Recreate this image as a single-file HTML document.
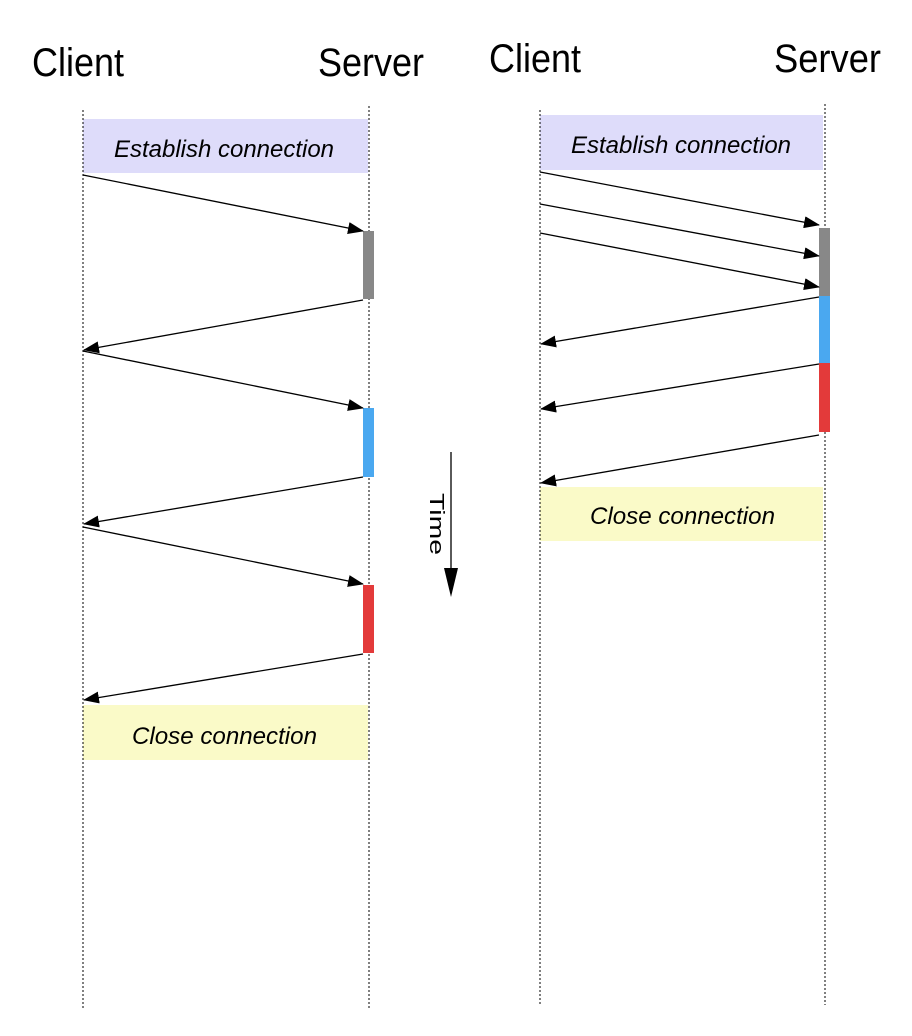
<!DOCTYPE html>
<html><head><meta charset="utf-8"><style>
html,body{margin:0;padding:0;background:#fff;}
svg{display:block;}
text{font-family:"Liberation Sans",sans-serif;}
</style></head><body>
<svg width="912" height="1036" viewBox="0 0 912 1036" xmlns="http://www.w3.org/2000/svg">
<defs>
<marker id="ah" markerWidth="16" markerHeight="12" refX="15" refY="6" orient="auto" markerUnits="userSpaceOnUse">
<path d="M0,0 L16,6 L0,12 z" fill="#000"/>
</marker>
</defs>
<!-- headers -->
<text x="32" y="76" font-size="40" textLength="92" lengthAdjust="spacingAndGlyphs">Client</text>
<text x="318" y="76" font-size="40" textLength="106" lengthAdjust="spacingAndGlyphs">Server</text>
<text x="489" y="72" font-size="40" textLength="92" lengthAdjust="spacingAndGlyphs">Client</text>
<text x="774" y="72" font-size="40" textLength="107" lengthAdjust="spacingAndGlyphs">Server</text>

<!-- left diagram -->
<rect x="83" y="119" width="285" height="54" fill="#dedcfa"/>
<rect x="83" y="705" width="285" height="55" fill="#fafac8"/>
<text x="114" y="157" font-size="24" font-style="italic" textLength="220" lengthAdjust="spacingAndGlyphs">Establish connection</text>
<text x="132" y="744" font-size="24" font-style="italic" textLength="185" lengthAdjust="spacingAndGlyphs">Close connection</text>
<line x1="83" y1="110" x2="83" y2="1008" stroke="#000" stroke-width="1" stroke-dasharray="2,2"/>
<line x1="369" y1="106" x2="369" y2="1008" stroke="#000" stroke-width="1" stroke-dasharray="2,2"/>
<rect x="363" y="231" width="11" height="68" fill="#888"/>
<rect x="363" y="408" width="11" height="69" fill="#4aa8f0"/>
<rect x="363" y="585" width="11" height="68" fill="#e33a3a"/>
<g stroke="#000" stroke-width="1.3" marker-end="url(#ah)">
<line x1="83" y1="175" x2="363" y2="231"/>
<line x1="363" y1="300" x2="84" y2="350"/>
<line x1="83" y1="351" x2="363" y2="408"/>
<line x1="363" y1="477" x2="84" y2="524"/>
<line x1="83" y1="527" x2="363" y2="584"/>
<line x1="363" y1="654" x2="84" y2="700"/>
</g>

<!-- right diagram -->
<rect x="540" y="115" width="283" height="55" fill="#dedcfa"/>
<rect x="540" y="487" width="283" height="54" fill="#fafac8"/>
<text x="571" y="153" font-size="24" font-style="italic" textLength="220" lengthAdjust="spacingAndGlyphs">Establish connection</text>
<text x="590" y="524" font-size="24" font-style="italic" textLength="185" lengthAdjust="spacingAndGlyphs">Close connection</text>
<line x1="540" y1="110" x2="540" y2="1005" stroke="#000" stroke-width="1" stroke-dasharray="2,2"/>
<line x1="825" y1="104" x2="825" y2="1005" stroke="#000" stroke-width="1" stroke-dasharray="2,2"/>
<rect x="819" y="228" width="11" height="68" fill="#888"/>
<rect x="819" y="296" width="11" height="67" fill="#4aa8f0"/>
<rect x="819" y="363" width="11" height="69" fill="#e33a3a"/>
<g stroke="#000" stroke-width="1.3" marker-end="url(#ah)">
<line x1="540" y1="172" x2="819" y2="225"/>
<line x1="540" y1="204" x2="819" y2="256"/>
<line x1="540" y1="233" x2="819" y2="287"/>
<line x1="819" y1="297" x2="541" y2="344"/>
<line x1="819" y1="364" x2="541" y2="409"/>
<line x1="819" y1="435" x2="541" y2="483"/>
</g>

<!-- time arrow -->
<line x1="451" y1="452" x2="451" y2="570" stroke="#000" stroke-width="1.3"/>
<path d="M444,568 L458,568 L451,597 z" fill="#000"/>
<text transform="translate(430,493) rotate(90)" font-size="20" textLength="62" lengthAdjust="spacingAndGlyphs">Time</text>
</svg>
</body></html>
